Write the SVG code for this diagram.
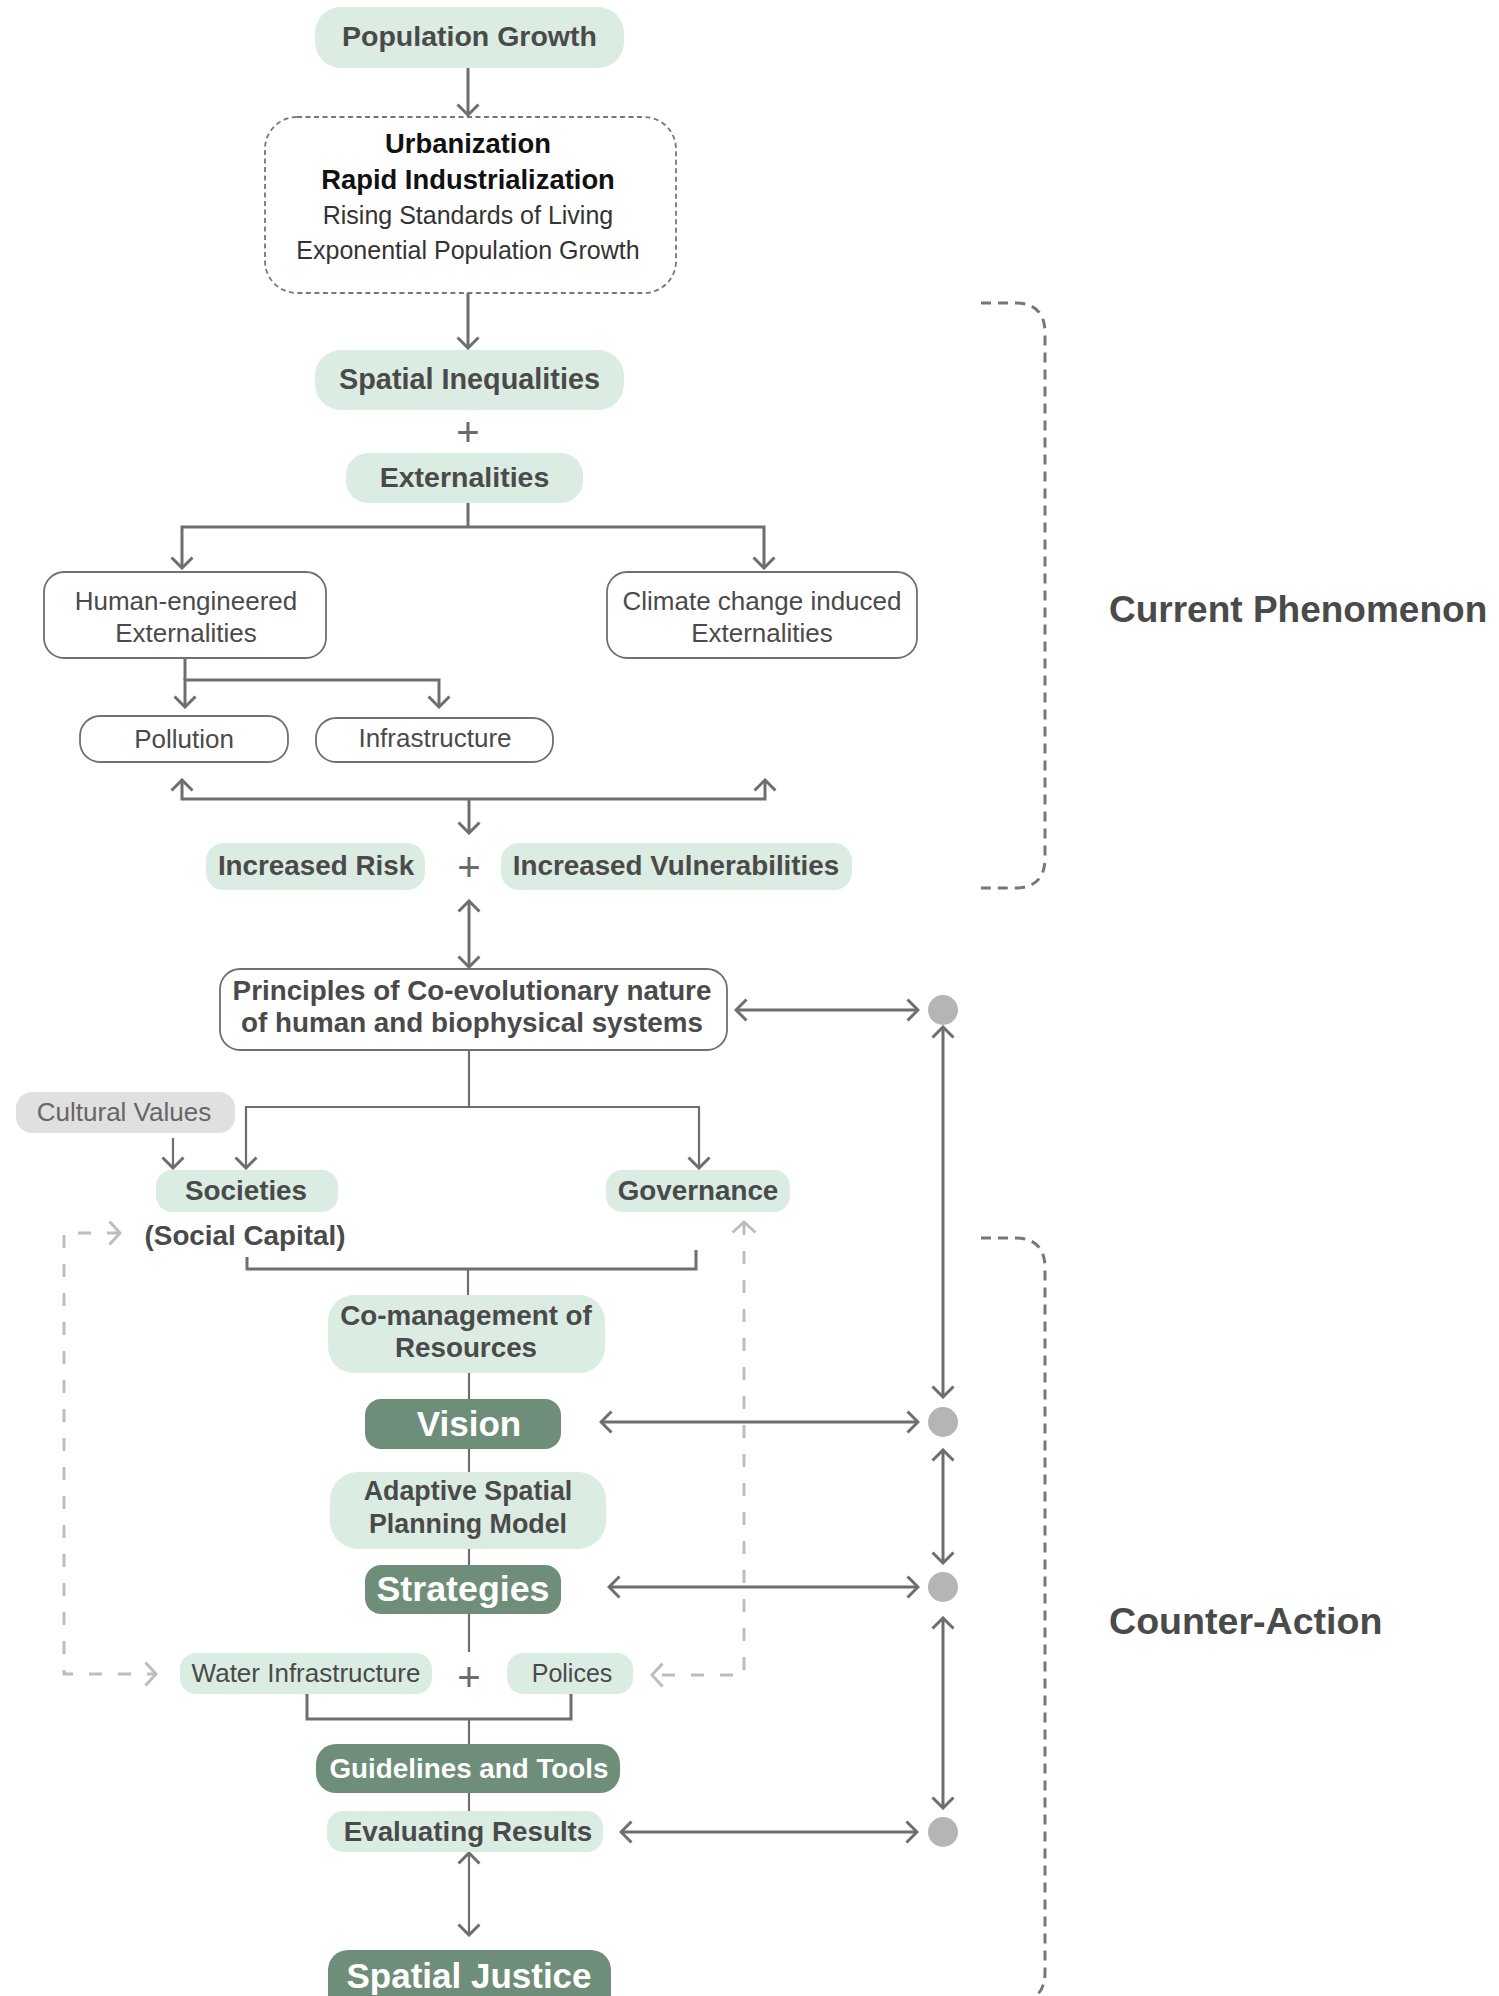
<svg xmlns="http://www.w3.org/2000/svg" width="1499" height="1996" viewBox="0 0 1499 1996">
<style>
.lg{fill:#dbece2}
.dg{fill:#6f8e7a}
.ol{fill:#fff;stroke:#707070;stroke-width:1.8}
.b{font-family:"Liberation Sans",Arial,sans-serif;font-weight:bold;font-size:27.8px;fill:#4a4a4a;text-anchor:middle}
.bw{font-family:"Liberation Sans",Arial,sans-serif;font-weight:bold;font-size:35px;fill:#fff;text-anchor:middle}
.l{font-family:"Liberation Sans",Arial,sans-serif;font-size:26px;fill:#4a4a4a;text-anchor:middle}
.plus{font-family:"Liberation Sans",Arial,sans-serif;font-size:40px;fill:#6b6b6b;text-anchor:middle}
.side{font-family:"Liberation Sans",Arial,sans-serif;font-weight:bold;font-size:37px;fill:#4a4a4a}
.c{fill:none;stroke:#6e6e6e;stroke-width:3}
.c2{fill:none;stroke:#6e6e6e;stroke-width:2.2}
.a{marker-end:url(#ah)}
.aa{marker-start:url(#ah);marker-end:url(#ah)}
.dl{fill:none;stroke:#bdbdbd;stroke-width:3;stroke-dasharray:13 16;marker-start:url(#ahg);marker-end:url(#ahg)}
.br{fill:none;stroke:#777;stroke-width:3;stroke-dasharray:10 7}
</style>
<defs>
<marker id="ah" viewBox="0 0 14 24" refX="12" refY="12" markerWidth="14" markerHeight="24" orient="auto-start-reverse" markerUnits="userSpaceOnUse">
<path d="M1.5,1.5 L12,12 L1.5,22.5" fill="none" stroke="#6e6e6e" stroke-width="3"/>
</marker>
<marker id="ahg" viewBox="0 0 14 26" refX="12" refY="13" markerWidth="14" markerHeight="26" orient="auto-start-reverse" markerUnits="userSpaceOnUse">
<path d="M1.5,1.5 L12,13 L1.5,24.5" fill="none" stroke="#bdbdbd" stroke-width="3"/>
</marker>
</defs>

<g id="connectors">
<path class="c a" d="M468,68 V115"/>
<path class="c a" d="M468,293 V348"/>
<path class="c" d="M468,503 V527"/>
<path class="c aa" d="M182,568 V527 H764 V568"/>
<path class="c" d="M185,658 V680"/>
<path class="c aa" d="M185,707 V680 H439 V707"/>
<path class="c aa" d="M182,780 V799 H765 V780"/>
<path class="c a" d="M469,799 V833"/>
<path class="c aa" d="M469,901 V967"/>
<path class="c aa" d="M736,1010 H918"/>
<path class="c2" d="M469,1050 V1107"/>
<path class="c2 aa" d="M246,1168 V1107 H699 V1168"/>
<path class="c2 a" d="M173,1138 V1168"/>
<path class="c" d="M247,1257 V1269 H696 V1250"/>
<path class="c2" d="M468,1269 V1295"/>
<path class="c2" d="M469,1373 V1399"/>
<path class="c2" d="M469,1449 V1472"/>
<path class="c2" d="M469,1549 V1565"/>
<path class="c2" d="M469,1614 V1652"/>
<path class="c" d="M307,1694 V1719 H571 V1694"/>
<path class="c2" d="M469,1719 V1744"/>
<path class="c2" d="M469,1793 V1811"/>
<path class="c2 aa" d="M469,1853 V1935"/>
<path class="c aa" d="M601,1422 H918"/>
<path class="c aa" d="M609,1587 H918"/>
<path class="c aa" d="M621,1832 H917"/>
<path class="c aa" d="M943,1027 V1397"/>
<path class="c aa" d="M943,1450 V1563"/>
<path class="c aa" d="M943,1618 V1808"/>
<path class="dl" d="M120,1233 H64 V1674 H156"/>
<path class="dl" d="M744,1222 V1675 H652"/>
<path class="br" d="M981,303 H1015 Q1045,303 1045,333 V858 Q1045,888 1015,888 H981"/>
<path class="br" d="M981,1238 H1015 Q1045,1238 1045,1268 V1972 Q1045,2002 1015,2002"/>
<text class="plus" x="468" y="446">+</text>
<text class="plus" x="469" y="881">+</text>
<text class="plus" x="469" y="1691">+</text>
</g>

<g id="dots" fill="#b5b5b5">
<circle cx="943" cy="1010" r="15"/>
<circle cx="943" cy="1422" r="15"/>
<circle cx="943" cy="1587" r="15"/>
<circle cx="943" cy="1832" r="15"/>
</g>

<g id="n-population-growth"><rect class="lg" x="315" y="7" width="309" height="61" rx="26"/><text class="b" x="469.5" y="46" style="font-size:28.5px">Population Growth</text></g>

<g id="n-drivers">
<rect x="265" y="117" width="411" height="176" rx="32" fill="none" stroke="#777" stroke-width="1.8" stroke-dasharray="5 3.5"/>
<text class="b" x="468" y="153" style="fill:#111;font-size:27.4px">Urbanization</text>
<text class="b" x="468" y="189" style="fill:#111;font-size:27.4px">Rapid Industrialization</text>
<text class="l" x="468" y="224" style="fill:#333;font-size:25px">Rising Standards of Living</text>
<text class="l" x="468" y="259" style="fill:#333;font-size:25px">Exponential Population Growth</text>
</g>

<g id="n-spatial-inequalities"><rect class="lg" x="315" y="350" width="309" height="60" rx="26"/><text class="b" x="469.5" y="389" style="font-size:28.8px">Spatial Inequalities</text></g>
<g id="n-externalities"><rect class="lg" x="346" y="453" width="237" height="50" rx="22"/><text class="b" x="464.5" y="487" style="font-size:28.5px">Externalities</text></g>

<g id="n-human-engineered"><rect class="ol" x="44" y="572" width="282" height="86" rx="20"/><text class="l" x="186" y="610">Human-engineered</text><text class="l" x="186" y="642">Externalities</text></g>
<g id="n-climate"><rect class="ol" x="607" y="572" width="310" height="86" rx="20"/><text class="l" x="762" y="610">Climate change induced</text><text class="l" x="762" y="642">Externalities</text></g>
<g id="n-pollution"><rect class="ol" x="80" y="716" width="208" height="46" rx="20"/><text class="l" x="184" y="748">Pollution</text></g>
<g id="n-infrastructure"><rect class="ol" x="316" y="718" width="237" height="44" rx="20"/><text class="l" x="435" y="747">Infrastructure</text></g>

<g id="n-increased-risk"><rect class="lg" x="206" y="843" width="219" height="47" rx="18"/><text class="b" x="316" y="875">Increased Risk</text></g>
<g id="n-increased-vulnerabilities"><rect class="lg" x="501" y="843" width="351" height="47" rx="18"/><text class="b" x="676" y="875">Increased Vulnerabilities</text></g>

<g id="n-principles"><rect class="ol" x="220" y="969" width="507" height="81" rx="20"/><text class="b" x="472" y="1000">Principles of Co-evolutionary nature</text><text class="b" x="472" y="1032">of human and biophysical systems</text></g>

<g id="n-cultural-values"><rect x="16" y="1092" width="219" height="41" rx="16" fill="#e0e0e0"/><text class="l" x="124" y="1121" style="fill:#666">Cultural Values</text></g>
<g id="n-societies"><rect class="lg" x="156" y="1170" width="182" height="42" rx="16"/><text class="b" x="246" y="1200">Societies</text><text class="b" x="245" y="1245">(Social Capital)</text></g>
<g id="n-governance"><rect class="lg" x="606" y="1170" width="184" height="42" rx="16"/><text class="b" x="698" y="1200">Governance</text></g>

<g id="n-comanagement"><rect class="lg" x="328" y="1295" width="277" height="78" rx="26"/><text class="b" x="466" y="1325">Co-management of</text><text class="b" x="466" y="1357">Resources</text></g>
<g id="n-vision"><rect class="dg" x="365" y="1399" width="196" height="50" rx="16"/><text class="bw" x="469" y="1436">Vision</text></g>
<g id="n-adaptive"><rect class="lg" x="330" y="1472" width="276" height="77" rx="28"/><text class="b" x="468" y="1500" style="font-size:26.8px">Adaptive Spatial</text><text class="b" x="468" y="1533" style="font-size:26.8px">Planning Model</text></g>
<g id="n-strategies"><rect class="dg" x="365" y="1565" width="196" height="49" rx="16"/><text class="bw" x="463" y="1601" style="font-size:35.8px">Strategies</text></g>

<g id="n-water-infrastructure"><rect class="lg" x="180" y="1653" width="252" height="41" rx="16"/><text class="l" x="306" y="1682">Water Infrastructure</text></g>
<g id="n-polices"><rect class="lg" x="507" y="1653" width="126" height="41" rx="16"/><text class="l" x="572" y="1682" style="font-size:25px">Polices</text></g>

<g id="n-guidelines"><rect class="dg" x="316" y="1744" width="304" height="49" rx="20"/><text class="b" x="469" y="1778" style="fill:#fff">Guidelines and Tools</text></g>
<g id="n-evaluating"><rect class="lg" x="327" y="1811" width="276" height="41" rx="16"/><text class="b" x="468" y="1841">Evaluating Results</text></g>
<g id="n-spatial-justice"><rect class="dg" x="328" y="1950" width="283" height="64" rx="20"/><text class="bw" x="469" y="1988">Spatial Justice</text></g>

<g id="labels">
<text class="side" x="1109" y="622">Current Phenomenon</text>
<text class="side" x="1109" y="1634" style="font-size:37.6px">Counter-Action</text>
</g>
</svg>
